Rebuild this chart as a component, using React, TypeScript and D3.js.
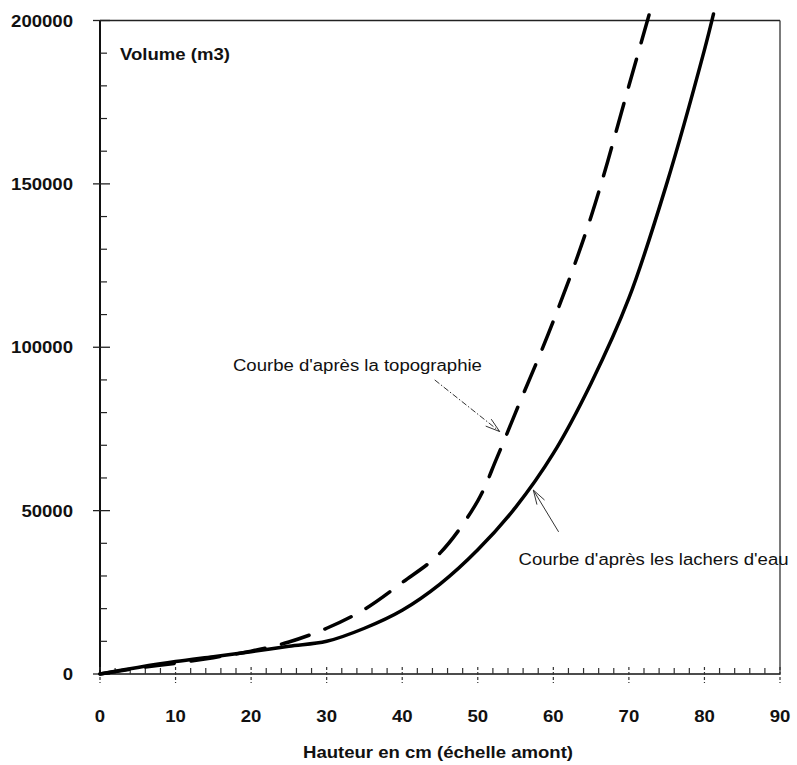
import React from "react";
import * as d3 from "d3";

// ---- data ----
const heightsLachers = [0, 5, 10, 15, 20, 25, 30, 35, 40, 45, 50, 55, 60, 65, 70, 75, 80, 81.2];
const volumeLachers = [0, 2000, 3800, 5300, 6800, 8500, 10000, 14000, 19500, 27500, 38000, 51000, 67500, 89000, 115000, 150000, 191000, 202000];

const heightsTopo = [0, 5, 10, 15, 20, 25, 30, 35, 40, 45, 50, 52.5, 55, 60, 65, 70, 72.7];
const volumeTopo = [0, 1800, 3300, 5000, 7000, 9800, 14000, 19800, 28000, 37000, 53000, 66000, 80000, 108000, 140000, 180000, 202000];

const xTicks = [0, 10, 20, 30, 40, 50, 60, 70, 80, 90];
const yTicks = [0, 50000, 100000, 150000, 200000];

const yLabel = "Volume (m3)";
const xLabel = "Hauteur en cm (échelle amont)";
const labelTopo = "Courbe d'après la topographie";
const labelLachers = "Courbe d'après les lachers d'eau";

// annotation anchors in data units [height, volume]
const annTopoText = [17.6, 92700];
const annTopoFrom = [44.3, 90000];
const annTopoTip = [52.9, 74200];
const annLachText = [55.4, 33400];
const annLachFrom = [60.7, 43500];
const annLachTip = [57.35, 56300];

const W = 797;
const H = 765;
const FONT = "'Liberation Sans', Arial, Helvetica, sans-serif";
const SX = 1.16;

export default function App() {
  const x = d3.scaleLinear().domain([0, 90]).range([100, 780]);
  const y = d3.scaleLinear().domain([0, 200000]).range([674, 20.5]);

  const lineGen = d3
    .line<[number, number]>()
    .x((d) => x(d[0]))
    .y((d) => y(d[1]))
    .curve(d3.curveCatmullRom.alpha(0.5));

  const lachers = heightsLachers.map((h, i) => [h, volumeLachers[i]] as [number, number]);
  const topo = heightsTopo.map((h, i) => [h, volumeTopo[i]] as [number, number]);

  const xMinor = d3.range(0, 90.01, 2).filter((v) => v % 10 !== 0);
  const yMinor = d3.range(0, 200001, 10000).filter((v) => v % 50000 !== 0);

  const arrowHead = (from: number[], tip: number[]) => {
    const x1 = x(from[0]), y1 = y(from[1]);
    const x2 = x(tip[0]), y2 = y(tip[1]);
    const a = Math.atan2(y2 - y1, x2 - x1);
    const L = 15, s = 0.3;
    const p1 = [x2 - L * Math.cos(a - s), y2 - L * Math.sin(a - s)];
    const p2 = [x2 - L * Math.cos(a + s), y2 - L * Math.sin(a + s)];
    return `M${p1[0]},${p1[1]}L${x2},${y2}L${p2[0]},${p2[1]}`;
  };

  const txt = (
    s: string,
    px: number,
    py: number,
    anchor: "start" | "middle" | "end",
    bold: boolean,
    key?: string
  ) => (
    <text
      key={key}
      transform={`translate(${px},${py}) scale(${SX},1)`}
      textAnchor={anchor}
      fontFamily={FONT}
      fontSize={16}
      fontWeight={bold ? "bold" : "normal"}
      fill="#111"
    >
      {s}
    </text>
  );

  return (
    <svg
      width={W}
      height={H}
      style={{ position: "absolute", left: 0, top: 0, background: "#fff" }}
    >
      <rect x={0} y={0} width={W} height={H} fill="#fff" />

      {/* frame */}
      <line x1={x(0)} x2={x(90)} y1={y(200000)} y2={y(200000)} stroke="#222" strokeWidth={1.5} />
      <line x1={x(90)} x2={x(90)} y1={y(200000)} y2={y(0)} stroke="#333" strokeWidth={1.3} />

      {/* y axis */}
      <line x1={x(0)} x2={x(0)} y1={y(0)} y2={y(200000)} stroke="#111" strokeWidth={2} />
      {yTicks.map((t) => (
        <line key={"yt" + t} x1={93} x2={110} y1={y(t)} y2={y(t)} stroke="#222" strokeWidth={1.3} />
      ))}
      {yMinor.map((t) => (
        <line key={"ym" + t} x1={x(0)} x2={107} y1={y(t)} y2={y(t)} stroke="#222" strokeWidth={1.2} />
      ))}
      {yTicks.map((t) => txt(String(t), 73, y(t) + 6, "end", true, "yl" + t))}

      {/* x axis */}
      <line x1={x(0)} x2={x(90)} y1={y(0)} y2={y(0)} stroke="#111" strokeWidth={1.5} />
      {xTicks.map((t) => (
        <line key={"xt" + t} x1={x(t)} x2={x(t)} y1={667} y2={683} stroke="#333" strokeWidth={1.2} strokeDasharray="3 2" />
      ))}
      {xMinor.map((t) => (
        <line key={"xm" + t} x1={x(t)} x2={x(t)} y1={668} y2={y(0)} stroke="#333" strokeWidth={1.2} />
      ))}
      {xTicks.map((t) => txt(String(t), x(t), 721.5, "middle", true, "xl" + t))}

      {/* axis titles */}
      {txt(yLabel, 120, 60, "start", true)}
      {txt(xLabel, 438, 758, "middle", true)}

      {/* curves */}
      <path d={lineGen(topo) || ""} fill="none" stroke="#000" strokeWidth={3.5} strokeDasharray="29 17" strokeLinecap="round" />
      <path d={lineGen(lachers) || ""} fill="none" stroke="#000" strokeWidth={3.5} strokeLinecap="round" />

      {/* annotations */}
      {txt(labelTopo, x(annTopoText[0]), y(annTopoText[1]), "start", false)}
      <line
        x1={x(annTopoFrom[0])}
        y1={y(annTopoFrom[1])}
        x2={x(annTopoTip[0])}
        y2={y(annTopoTip[1])}
        stroke="#333"
        strokeWidth={1}
        strokeDasharray="6 2 1.5 2"
      />
      <path d={arrowHead(annTopoFrom, annTopoTip)} fill="none" stroke="#333" strokeWidth={1} />

      {txt(labelLachers, x(annLachText[0]), y(annLachText[1]), "start", false)}
      <line
        x1={x(annLachFrom[0])}
        y1={y(annLachFrom[1])}
        x2={x(annLachTip[0])}
        y2={y(annLachTip[1])}
        stroke="#333"
        strokeWidth={1}
      />
      <path d={arrowHead(annLachFrom, annLachTip)} fill="none" stroke="#333" strokeWidth={1} />
    </svg>
  );
}
